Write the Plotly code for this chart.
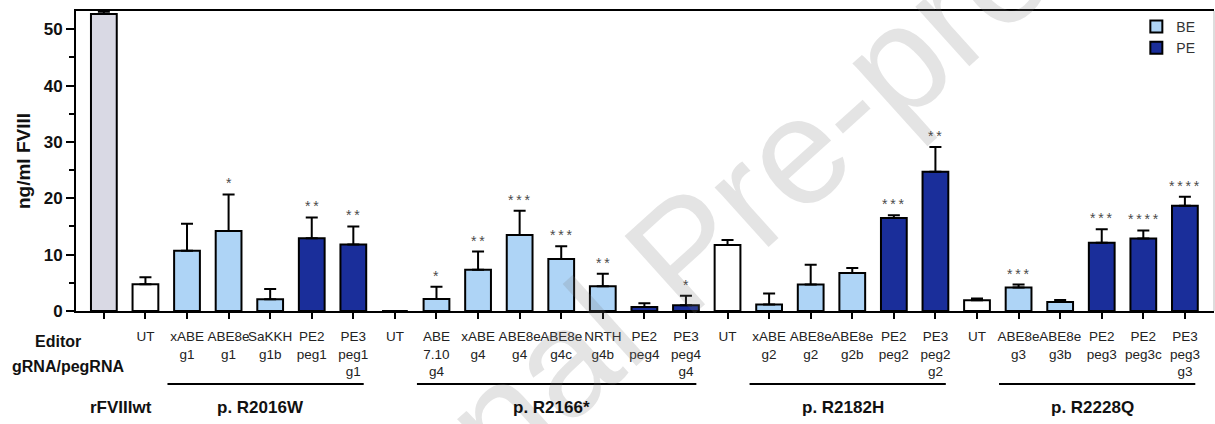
import plotly.graph_objects as go

# ---------------- data ----------------
editors = ["", "UT", "xABE", "ABE8e", "SaKKH", "PE2", "PE3",
           "UT", "ABE", "xABE", "ABE8e", "ABE8e", "NRTH", "PE2", "PE3",
           "UT", "xABE", "ABE8e", "ABE8e", "PE2", "PE3",
           "UT", "ABE8e", "ABE8e", "PE2", "PE2", "PE3"]
guides = ["", "", "g1", "g1", "g1b", "peg1", "peg1<br>g1",
          "", "7.10<br>g4", "g4", "g4", "g4c", "g4b", "peg4", "peg4<br>g4",
          "", "g2", "g2", "g2b", "peg2", "peg2<br>g2",
          "", "g3", "g3b", "peg3", "peg3c", "peg3<br>g3"]
kinds = ["wt", "ut", "be", "be", "be", "pe", "pe",
         "ut", "be", "be", "be", "be", "be", "pe", "pe",
         "ut", "be", "be", "be", "pe", "pe",
         "ut", "be", "be", "pe", "pe", "pe"]
means = [52.7, 4.75, 10.7, 14.2, 2.1, 12.9, 11.8,
         0.0, 2.15, 7.3, 13.5, 9.25, 4.4, 0.7, 1.0,
         11.7, 1.15, 4.7, 6.75, 16.5, 24.7,
         1.9, 4.15, 1.6, 12.1, 12.85, 18.7]
errs = [0.4, 1.25, 4.8, 6.5, 1.8, 3.7, 3.2,
        0.0, 2.15, 3.25, 4.3, 2.25, 2.2, 0.67, 1.7,
        0.9, 1.95, 3.5, 0.9, 0.5, 4.4,
        0.3, 0.55, 0.35, 2.4, 1.45, 1.6]
sig = ["", "", "", "*", "", "**", "**",
       "", "*", "**", "***", "***", "**", "", "*",
       "", "", "", "", "***", "**",
       "", "***", "", "***", "****", "****"]
group_names = ["rFVIIIwt", "p. R2016W", "p. R2166*", "p. R2182H", "p. R2228Q"]
group_first = [0, 1, 7, 15, 21]
group_last = [0, 6, 14, 20, 26]

kind_colors = {"wt": "#D9D9E4", "ut": "#FFFFFF", "be": "#AED4F6", "pe": "#1A2E9A"}
kind_names = {"wt": "rFVIIIwt", "ut": "UT", "be": "BE", "pe": "PE"}

FONT = "Liberation Sans, Arial, sans-serif"

fig = go.Figure()
for k in ["wt", "ut", "be", "pe"]:
    idx = [i for i, kk in enumerate(kinds) if kk == k]
    fig.add_trace(go.Bar(
        x=idx, y=[means[i] for i in idx],
        name=kind_names[k],
        showlegend=k in ("be", "pe"),
        width=0.62,
        marker=dict(color=kind_colors[k], line=dict(color="black", width=2)),
        error_y=dict(type="data", symmetric=False,
                     array=[errs[i] for i in idx],
                     arrayminus=[0] * len(idx),
                     color="black", thickness=2, width=6),
    ))

ticktext = []
for e, g in zip(editors, guides):
    ticktext.append(e + ("<br>" + g if g else ""))

annotations = []
# watermark (drawn first)
annotations.append(dict(x=0.535, y=0.2, xref="paper", yref="paper",
                        text="Journal Pre-proof", showarrow=False, textangle=-42,
                        xanchor="center", yanchor="middle",
                        font=dict(family=FONT, size=152, color="rgba(120,120,120,0.2)")))
# significance stars
for i, s in enumerate(sig):
    if s:
        annotations.append(dict(
            x=i, y=means[i] + errs[i], xref="x", yref="y",
            text="\u2009".join(s), showarrow=False,
            yanchor="bottom", yshift=1,
            font=dict(family=FONT, size=14, color="#4A4A4A")))

# row headers
annotations.append(dict(x=0, y=1, xref="paper", yref="paper", text="<b>Editor</b>",
                        showarrow=False, xanchor="center", yanchor="middle",
                        xshift=-18, yshift=-330,
                        font=dict(family=FONT, size=16, color="#111111")))
annotations.append(dict(x=0, y=1, xref="paper", yref="paper", text="<b>gRNA/pegRNA</b>",
                        showarrow=False, xanchor="center", yanchor="middle",
                        xshift=-8, yshift=-355,
                        font=dict(family=FONT, size=16, color="#111111")))

shapes = []
for name, a, b in zip(group_names, group_first, group_last):
    if a == b:
        cx = a
        xs = 17
    else:
        x0 = a + 1 - 0.47
        x1 = b + 0.25
        shapes.append(dict(type="line", xref="x", yref="paper",
                           x0=x0, x1=x1, y0=-0.243, y1=-0.243,
                           line=dict(color="black", width=2)))
        cx = (x0 + x1) / 2 - 0.12
        xs = 0
    annotations.append(dict(x=cx, y=-0.323, xref="x", yref="paper",
                            text="<b>" + name + "</b>", showarrow=False,
                            xanchor="center", yanchor="middle", xshift=xs,
                            font=dict(family=FONT, size=17, color="#111111")))

# right frame line
shapes.append(dict(type="line", xref="paper", yref="paper", x0=1, x1=1, y0=0, y1=1,
                   line=dict(color="#BBBBBB", width=1)))

fig.update_layout(
    width=1215, height=424,
    margin=dict(l=76, r=1, t=11, b=113),
    paper_bgcolor="white", plot_bgcolor="white",
    barmode="overlay",
    font=dict(family=FONT, color="#222222"),
    showlegend=True,
    legend=dict(x=0.988, y=1.0, xanchor="right", yanchor="top",
                bgcolor="rgba(0,0,0,0)", tracegroupgap=0, itemwidth=30,
                font=dict(family=FONT, size=14, color="#333333")),
    xaxis=dict(range=[-0.67, 26.7], tickmode="array",
               tickvals=list(range(len(editors))), ticktext=ticktext,
               tickangle=0,
               showline=True, linecolor="black", linewidth=2, mirror=True,
               ticks="outside", ticklen=6, tickwidth=2, tickcolor="black",
               ticklabelstandoff=6,
               tickfont=dict(family=FONT, size=13.5, color="#222222"),
               showgrid=False, zeroline=False),
    yaxis=dict(range=[0, 53.25], tickvals=[0, 10, 20, 30, 40, 50],
               showline=True, linecolor="black", linewidth=2,
               ticks="outside", ticklen=8, tickwidth=2, tickcolor="black",
               tickfont=dict(family=FONT, size=17, color="#111111", weight="bold"),
               minor=dict(dtick=5, ticks="outside", ticklen=5, tickwidth=2, tickcolor="black"),
               showgrid=False, zeroline=False,
               title=dict(text="<b>ng/ml FVIII</b>", standoff=8,
                          font=dict(family=FONT, size=19, color="#111111"))),
    annotations=annotations,
    shapes=shapes,
)

fig.write_html("out.html")
